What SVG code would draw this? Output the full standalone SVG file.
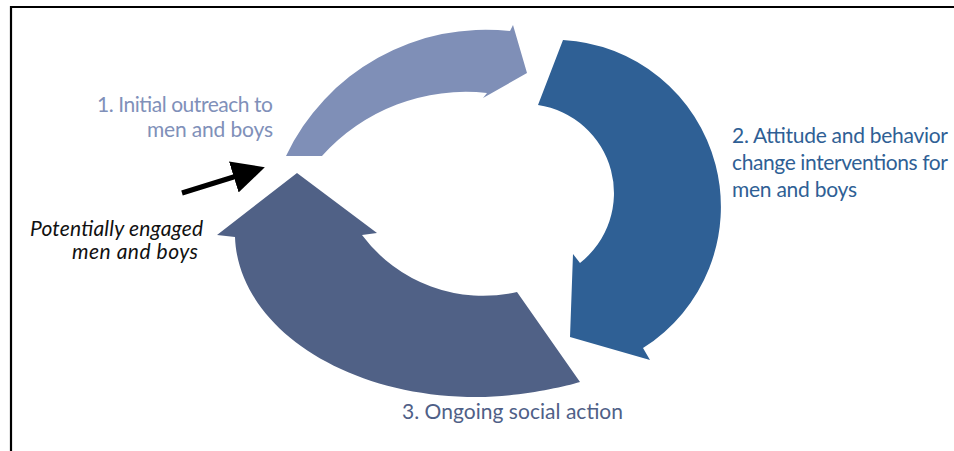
<svg xmlns="http://www.w3.org/2000/svg" width="954" height="451" viewBox="0 0 954 451">
  <style>
    .lbl { font-family: Lato, "Open Sans", "Liberation Sans", sans-serif; font-size: 21px; }
    .t1 { fill: #8090b9; }
    .t2 { fill: #2f5f95; }
    .t3 { fill: #4f6087; }
    .ital { font-style: italic; fill: #111111; }
    .frame { stroke: #000000; stroke-width: 2.2; fill: none; }
  </style>
  <defs>
    <marker id="head" viewBox="0 0 10 10" refX="2" refY="5" markerWidth="6.5" markerHeight="6.5" markerUnits="strokeWidth" orient="auto">
      <path d="M0,0 L10,5 L0,10 Z" fill="#000000"/>
    </marker>
  </defs>
  <rect x="0" y="0" width="954" height="451" fill="#ffffff"/>
  <g id="frame">
    <line class="frame" x1="11" y1="7" x2="954" y2="7"/>
    <line class="frame" x1="11" y1="6" x2="11" y2="451"/>
  </g>

  <g id="stage1">
    <path d="M286,156 A221,221 0 0 1 510,31 L513,25 L527,73 L483,98 L487,93 A193,193 0 0 0 322,156 Z" fill="#7f8fb7"/>
    <text class="lbl t1" x="97" y="112" textLength="176">1. Initial outreach to</text>
    <text class="lbl t1" x="147" y="137" textLength="126">men and boys</text>
  </g>

  <g id="stage2">
    <path d="M563,40 A167,167 0 0 1 643,348 L650,360 L570,337 L573,254 L580,263 A89,89 0 0 0 538,105 Z" fill="#2f6095"/>
    <text class="lbl t2" x="732" y="143" textLength="216">2. Attitude and behavior</text>
    <text class="lbl t2" x="732" y="170" textLength="216">change interventions for</text>
    <text class="lbl t2" x="732" y="197" textLength="125">men and boys</text>
  </g>

  <g id="stage3">
    <path d="M517,292 A151,151 0 0 1 362,235 L377,233 L297,173 L217,235 L235,237 C238,325 343,397 477,397 C516,397 560,388 580,382 Z" fill="#506186"/>
    <text class="lbl t3" x="402" y="419" textLength="221">3. Ongoing social action</text>
  </g>

  <g id="potential">
    <text class="lbl ital" x="30" y="236" textLength="173">Potentially engaged</text>
    <text class="lbl ital" x="72" y="259" textLength="126">men and boys</text>
  </g>

  <g id="connectors">
    <line x1="182" y1="193" x2="240" y2="175" stroke="#000000" stroke-width="5" marker-end="url(#head)"/>
  </g>
</svg>
